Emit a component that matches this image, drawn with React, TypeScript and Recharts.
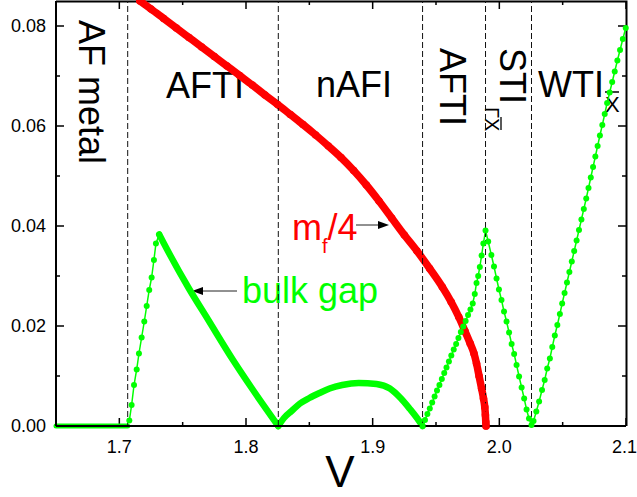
import React from 'react';
import { ComposedChart, Line, XAxis, YAxis, ReferenceLine } from 'recharts';

const FONT = '"Liberation Sans", Arial, sans-serif';
const GREEN = '#00ff00';
const RED = '#ff0000';

// axis ticks
const xMajor = [1.7, 1.8, 1.9, 2.0, 2.1];
const xMinor = [1.75, 1.85, 1.95, 2.05];
const yMajor = [0, 0.02, 0.04, 0.06, 0.08];
const yMinor = [0.01, 0.03, 0.05, 0.07];
const X_DOMAIN = [1.65, 2.1];
const Y_DOMAIN = [0, 0.085];

// phase boundaries (dashed lines)
const phaseEdges = [1.7066, 1.8255, 1.9394, 1.9891, 2.0254];

// m_f / 4 (red)
const redV = [1.7163, 1.725, 1.735, 1.745, 1.755, 1.765, 1.775, 1.785, 1.795, 1.805, 1.815, 1.825, 1.835, 1.845, 1.855, 1.865, 1.875, 1.885, 1.895, 1.905, 1.915, 1.925, 1.935, 1.945, 1.955, 1.962, 1.968, 1.973, 1.977, 1.98, 1.982, 1.984, 1.986, 1.9875, 1.9885, 1.989, 1.9893, 1.9895];
const redM = [0.085, 0.0834, 0.0815, 0.0796, 0.0777, 0.0758, 0.0739, 0.072, 0.0701, 0.0682, 0.0662, 0.0643, 0.0623, 0.0603, 0.0582, 0.056, 0.0537, 0.0511, 0.0482, 0.045, 0.0416, 0.0382, 0.035, 0.0315, 0.0278, 0.0248, 0.0218, 0.0189, 0.0165, 0.0145, 0.0125, 0.01, 0.0075, 0.0055, 0.0038, 0.0022, 0.0008, 0];

// bulk gap (green), split where the dots run dense / sparse
const gapFlatV = [1.65, 1.68, 1.7066];
const gapFlat = [0, 0, 0];

const gapRiseV = [1.7079, 1.7097, 1.7116, 1.7137, 1.7155, 1.7176, 1.7197, 1.7216, 1.7236, 1.7255, 1.7273, 1.7289, 1.7315];
const gapRise = [0.0011, 0.0042, 0.0082, 0.0113, 0.0145, 0.0177, 0.0209, 0.024, 0.0272, 0.0297, 0.0332, 0.0365, 0.0383];

const gapFallV = [1.7315, 1.7352, 1.7547, 1.77, 1.79, 1.805, 1.8255];
const gapFall = [0.0383, 0.0365, 0.0276, 0.0213, 0.0131, 0.0074, 0];

const gapArcV = [1.8255, 1.83, 1.836, 1.8426, 1.85, 1.858, 1.866, 1.876, 1.889, 1.903, 1.9136, 1.922, 1.9294, 1.935, 1.9394];
const gapArc = [0, 0.0016, 0.003, 0.0045, 0.0056, 0.0066, 0.0075, 0.0082, 0.0086, 0.0084, 0.0075, 0.0056, 0.0034, 0.0016, 0];

const gapTiV = [
  1.9394, 1.9413, 1.9432, 1.9451, 1.947, 1.9489, 1.9508, 1.9527, 1.9546, 1.9565, 1.9583, 1.9602, 1.9621, 1.964, 1.9659,
  1.9677, 1.9696, 1.9715, 1.9734, 1.9753, 1.9772, 1.979, 1.9806, 1.982, 1.9833, 1.9846, 1.986, 1.9874, 1.9891,
  1.9912, 1.9937, 1.9958, 1.9978, 1.9997, 2.0017, 2.0037, 2.0057, 2.0077, 2.0097, 2.0117, 2.0136, 2.0156, 2.0176,
  2.0196, 2.0215, 2.0234, 2.0254,
  2.027, 2.0292, 2.0314, 2.0337, 2.0358, 2.0378, 2.0399, 2.0418, 2.0438, 2.0458, 2.0478, 2.0496, 2.0515, 2.0534,
  2.0553, 2.0572, 2.0591, 2.061, 2.0629, 2.0648, 2.0667, 2.0686, 2.0704, 2.0722, 2.074, 2.0758, 2.0776, 2.0794,
  2.0813, 2.0832, 2.0851, 2.0871, 2.0891, 2.0911, 2.0932, 2.0953, 2.0975, 2.0998,
];
const gapTi = [
  0, 0.0012, 0.0024, 0.0035, 0.0047, 0.0059, 0.0071, 0.0082, 0.0094, 0.0106, 0.0117, 0.0129, 0.0141, 0.0153, 0.0164,
  0.0176, 0.0188, 0.0199, 0.021, 0.0222, 0.0233, 0.0245, 0.0264, 0.0286, 0.03, 0.0318, 0.0341, 0.0365, 0.0391,
  0.0369, 0.0342, 0.0319, 0.0295, 0.0273, 0.0252, 0.0229, 0.0209, 0.0187, 0.0164, 0.0144, 0.0122, 0.0099, 0.0077,
  0.0055, 0.0033, 0.0015, 0.0002,
  0.001, 0.0029, 0.0049, 0.0072, 0.0092, 0.0115, 0.0135, 0.0158, 0.0181, 0.0202, 0.0224, 0.0245, 0.0266, 0.0287,
  0.0308, 0.0329, 0.035, 0.0371, 0.0392, 0.0413, 0.0434, 0.0455, 0.0476, 0.0497, 0.0518, 0.0539, 0.056, 0.0581,
  0.0602, 0.0624, 0.0646, 0.0667, 0.0688, 0.0709, 0.0731, 0.0752, 0.0774, 0.0796,
];

const rows = (vs: number[], ys: number[]) => vs.map((v, i) => ({ v, y: ys[i] }));

// plot box (matches chart margins / axis sizes below)
const PLOT = { left: 56, right: 626, top: 1, bottom: 426 };
const sx = (v: number) => PLOT.left + ((v - X_DOMAIN[0]) / (X_DOMAIN[1] - X_DOMAIN[0])) * (PLOT.right - PLOT.left);
const sy = (v: number) => PLOT.bottom - ((v - Y_DOMAIN[0]) / (Y_DOMAIN[1] - Y_DOMAIN[0])) * (PLOT.bottom - PLOT.top);

const frame = { stroke: '#000', strokeWidth: 2 };
const labelStyle = { fontSize: 18, fill: '#000', fontFamily: FONT };

function BottomTick(props: any) {
  const { x, y, payload } = props;
  const lx = payload.value > 2.09 ? x - 1.5 : x;
  return (
    <text x={lx} y={y} dy="0.71em" textAnchor="middle" style={labelStyle}>
      {payload.value.toFixed(1)}
    </text>
  );
}

function LeftTick(props: any) {
  const { x, y, payload } = props;
  return (
    <text x={x} y={y} dy="0.355em" textAnchor="end" style={labelStyle}>
      {payload.value.toFixed(2)}
    </text>
  );
}

// texts, arrows, top/right frame and inward tick marks (drawn under the chart layer)
function Annotations() {
  const xt = [...xMajor.map((v) => [v, 8]), ...xMinor.map((v) => [v, 4])];
  const yt = [...yMajor.map((v) => [v, 8]), ...yMinor.map((v) => [v, 4])];
  return (
    <svg width={637} height={497} style={{ position: 'absolute', left: 0, top: 0 }} fontFamily={FONT}>
      <path
        d={`M${PLOT.left},${PLOT.top + 0.5}H${PLOT.right + 0.5}V${PLOT.bottom}`}
        fill="none"
        stroke="#000"
        strokeWidth={2}
      />
      {xt.map(([v, len]) => (
        <path
          key={`x${v}`}
          d={`M${sx(v)},${PLOT.bottom}v${-len}M${sx(v)},${PLOT.top}v${len}`}
          stroke="#000"
          strokeWidth={1.5}
        />
      ))}
      {yt.map(([v, len]) => (
        <path
          key={`y${v}`}
          d={`M${PLOT.left},${sy(v)}h${len}M${PLOT.right},${sy(v)}h${-len}`}
          stroke="#000"
          strokeWidth={1.5}
        />
      ))}

      <text transform="translate(79,20) rotate(90)" fontSize={36}>AF metal</text>
      <text x={166} y={98} fontSize={36}>AFTI</text>
      <text x={316} y={97} fontSize={36}>nAFI</text>
      <text transform="translate(440,48) rotate(90)" fontSize={36}>AFTI</text>
      <g transform="translate(500,48) rotate(90)">
        <text fontSize={36}>
          STI
          <tspan fontSize={20} dx={3} dy={15}>ΓX</tspan>
        </text>
        <line x1={69} x2={82} y1={-1} y2={-1} stroke="#000" strokeWidth={1.3} />
      </g>
      <text x={538} y={97} fontSize={36}>
        WTI
        <tspan fontSize={22} dx={1} dy={15}>X</tspan>
      </text>
      <line x1={605} x2={619} y1={92} y2={92} stroke="#000" strokeWidth={1.5} />

      <text x={292} y={240} fontSize={36} fill={RED}>
        m<tspan fontSize={20} dy={13}>f</tspan>
        <tspan dy={-13}>/4</tspan>
      </text>
      <line x1={356} x2={380} y1={225} y2={225} stroke="#222" strokeWidth={1} />
      <polygon points="389,225 378,221 378,229" fill="#000" />

      <text x={242} y={303} fontSize={36} fill={GREEN}>bulk gap</text>
      <line x1={237} x2={200} y1={291} y2={291} stroke="#222" strokeWidth={1} />
      <polygon points="192,291 203,287 203,295" fill="#000" />

      <text x={340} y={487} fontSize={44} textAnchor="middle">V</text>
    </svg>
  );
}

export default function App() {
  return (
    <div style={{ position: 'absolute', left: 0, top: 0, width: 637, height: 497, background: '#fff' }}>
      <Annotations />
      <div style={{ position: 'absolute', left: 0, top: 0 }}>
        <ComposedChart width={637} height={497} margin={{ top: 1, right: 11, bottom: 0, left: 0 }}>
          <XAxis
            xAxisId="x"
            type="number"
            dataKey="v"
            domain={X_DOMAIN}
            ticks={xMajor}
            interval={0}
            tickLine={false}
            tickSize={0}
            tickMargin={14}
            height={71}
            axisLine={frame}
            tick={<BottomTick />}
          />
          <YAxis
            yAxisId="y"
            type="number"
            domain={Y_DOMAIN}
            ticks={yMajor}
            interval={0}
            tickLine={false}
            tickSize={0}
            tickMargin={10}
            width={56}
            axisLine={frame}
            tick={<LeftTick />}
          />

          <Line xAxisId="x" yAxisId="y" data={rows(redV, redM)} dataKey="y" type="monotone" stroke={RED} strokeWidth={7.5} strokeLinecap="round" strokeLinejoin="round" dot={{ r: 3.8, fill: RED, stroke: 'none' }} activeDot={false} isAnimationActive={false} />

          <Line xAxisId="x" yAxisId="y" data={rows(gapFlatV, gapFlat)} dataKey="y" type="linear" stroke={GREEN} strokeWidth={5} strokeLinecap="round" dot={false} activeDot={false} isAnimationActive={false} />
          <Line xAxisId="x" yAxisId="y" data={rows(gapRiseV, gapRise)} dataKey="y" type="linear" stroke={GREEN} strokeWidth={1.5} dot={{ r: 3, fill: GREEN, stroke: 'none' }} activeDot={false} isAnimationActive={false} />
          <Line xAxisId="x" yAxisId="y" data={rows(gapFallV, gapFall)} dataKey="y" type="monotone" stroke={GREEN} strokeWidth={6.5} strokeLinecap="round" strokeLinejoin="round" dot={false} activeDot={false} isAnimationActive={false} />
          <Line xAxisId="x" yAxisId="y" data={rows(gapArcV, gapArc)} dataKey="y" type="monotone" stroke={GREEN} strokeWidth={6.5} strokeLinecap="round" strokeLinejoin="round" dot={false} activeDot={false} isAnimationActive={false} />
          <Line xAxisId="x" yAxisId="y" data={rows(gapTiV, gapTi)} dataKey="y" type="linear" stroke={GREEN} strokeWidth={1.5} dot={{ r: 3, fill: GREEN, stroke: 'none' }} activeDot={false} isAnimationActive={false} />

          {phaseEdges.map((v) => (
            <ReferenceLine key={v} xAxisId="x" yAxisId="y" x={v} stroke="#111" strokeWidth={1} strokeDasharray="6 3" />
          ))}
        </ComposedChart>
      </div>
    </div>
  );
}
